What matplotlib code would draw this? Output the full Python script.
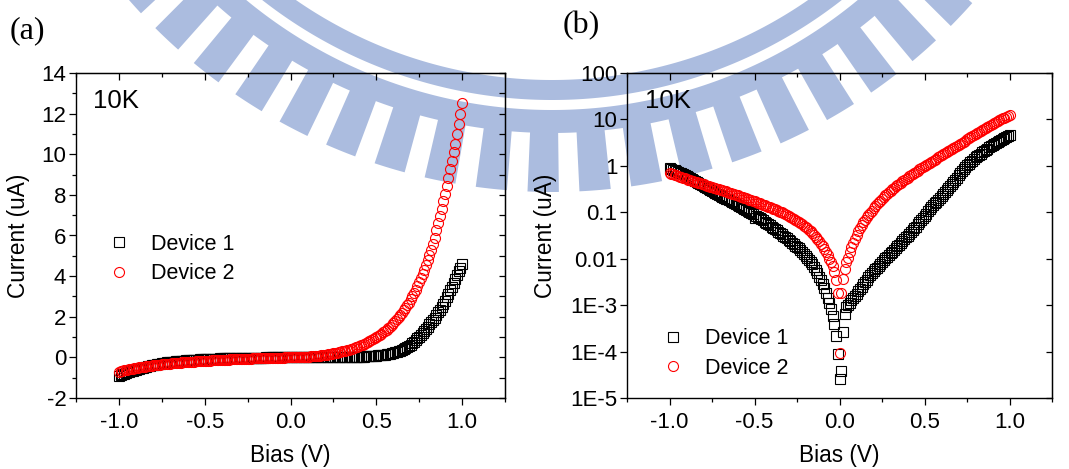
import numpy as np
import matplotlib
matplotlib.use("Agg")
from matplotlib import pyplot as plt
from matplotlib.patches import Polygon
from matplotlib.transforms import Affine2D
from matplotlib.ticker import (MultipleLocator, FixedLocator, FixedFormatter,
                               LogLocator, NullFormatter, NullLocator,
                               FormatStrFormatter)

plt.rcParams['font.family'] = ['Liberation Sans', 'DejaVu Sans']
plt.rcParams['axes.unicode_minus'] = False

W, H = 1069, 469

# I-V sweep at 10K, -1 V to 1 V in 10 mV steps
bias = np.linspace(-1.0, 1.0, 201)

# current in uA
device1 = [
    -0.90, -0.865, -0.832, -0.80, -0.77, -0.741, -0.713, -0.686, -0.66, -0.635,
    -0.611, -0.587, -0.558, -0.531, -0.505, -0.48, -0.456, -0.434, -0.412, -0.392,
    -0.372, -0.354, -0.337, -0.321, -0.306, -0.292, -0.278, -0.265, -0.252, -0.24,
    -0.229, -0.218, -0.208, -0.198, -0.189, -0.18, -0.171, -0.163, -0.156, -0.148,
    -0.141, -0.135, -0.129, -0.123, -0.117, -0.112, -0.107, -0.102, -0.0977, -0.0933,
    -0.074, -0.0841, -0.0794, -0.075, -0.0708, -0.0668, -0.0631, -0.0596, -0.0562, -0.0527,
    -0.0494, -0.0463, -0.0435, -0.0407, -0.0382, -0.0358, -0.0336, -0.0315, -0.0293, -0.0273,
    -0.0254, -0.0237, -0.022, -0.0205, -0.0191, -0.0178, -0.0166, -0.0154, -0.014, -0.0127,
    -0.0115, -0.0105, -0.0095, -0.0086, -0.00755, -0.0066, -0.00578, -0.00486, -0.00409, -0.00344,
    -0.0029, -0.00234, -0.00186, -0.00145, -0.0011, -0.00083, -0.00059, -0.00039, -0.00022, -0.00009,
    0.000026, 0.000039, 0.00026, 0.00066, 0.00089, 0.001, 0.00112, 0.00126, 0.00141, 0.00158,
    0.00178, 0.002, 0.00224, 0.00251, 0.00282, 0.00316, 0.00355, 0.00398, 0.00447, 0.0049,
    0.00537, 0.00589, 0.00646, 0.00708, 0.00776, 0.00851, 0.00933, 0.0102, 0.0111, 0.0121,
    0.0131, 0.0143, 0.0156, 0.0169, 0.0185, 0.0201, 0.022, 0.024, 0.0263, 0.0288,
    0.0315, 0.0344, 0.0377, 0.0412, 0.0451, 0.0493, 0.0548, 0.061, 0.0678, 0.0753,
    0.0838, 0.0931, 0.104, 0.115, 0.128, 0.141, 0.155, 0.17, 0.187, 0.205,
    0.225, 0.248, 0.273, 0.30, 0.332, 0.367, 0.407, 0.452, 0.502, 0.558,
    0.62, 0.69, 0.765, 0.845, 0.93, 1.02, 1.11, 1.2, 1.3, 1.41,
    1.52, 1.62, 1.73, 1.84, 1.96, 2.08, 2.21, 2.35, 2.49, 2.64,
    2.8, 2.96, 3.13, 3.3, 3.48, 3.67, 3.87, 4.07, 4.25, 4.42,
    4.58,
]
device2 = [
    -0.70, -0.68, -0.66, -0.64, -0.62, -0.60, -0.58, -0.565, -0.55, -0.535,
    -0.52, -0.505, -0.49, -0.477, -0.465, -0.453, -0.441, -0.43, -0.419, -0.408,
    -0.397, -0.387, -0.377, -0.367, -0.358, -0.349, -0.34, -0.331, -0.322, -0.313,
    -0.305, -0.297, -0.289, -0.281, -0.274, -0.266, -0.259, -0.252, -0.245, -0.238,
    -0.231, -0.225, -0.218, -0.212, -0.206, -0.2, -0.194, -0.188, -0.183, -0.178,
    -0.172, -0.167, -0.162, -0.157, -0.152, -0.147, -0.142, -0.137, -0.133, -0.128,
    -0.124, -0.119, -0.115, -0.111, -0.107, -0.103, -0.099, -0.095, -0.091, -0.087,
    -0.083, -0.079, -0.075, -0.072, -0.068, -0.065, -0.062, -0.058, -0.055, -0.051,
    -0.048, -0.045, -0.042, -0.039, -0.036, -0.033, -0.030, -0.027, -0.024, -0.021,
    -0.0185, -0.016, -0.0138, -0.0118, -0.010, -0.0085, -0.0070, -0.0052, -0.0034, -0.0018,
    0.000091, 0.00185, 0.0036, 0.0059, 0.0085, 0.0106, 0.0137, 0.0175, 0.022, 0.027,
    0.033, 0.039, 0.046, 0.053, 0.061, 0.069, 0.078, 0.088, 0.098, 0.109,
    0.121, 0.134, 0.148, 0.163, 0.178, 0.195, 0.212, 0.23, 0.25, 0.27,
    0.29, 0.312, 0.335, 0.36, 0.385, 0.41, 0.435, 0.465, 0.495, 0.525,
    0.56, 0.595, 0.63, 0.67, 0.71, 0.75, 0.79, 0.84, 0.89, 0.94,
    0.99, 1.05, 1.11, 1.17, 1.23, 1.3, 1.37, 1.44, 1.52, 1.6,
    1.69, 1.78, 1.88, 1.98, 2.09, 2.2, 2.32, 2.44, 2.57, 2.7,
    2.85, 3.0, 3.16, 3.33, 3.5, 3.7, 3.9, 4.1, 4.3, 4.55,
    4.8, 5.05, 5.3, 5.6, 5.9, 6.25, 6.6, 6.95, 7.3, 7.7,
    8.05, 8.45, 8.85, 9.25, 9.65, 10.1, 10.5, 11.0, 11.5, 12.0,
    12.5,
]

series_labels = ['Device 1', 'Device 2']
log_ticks = [1e-5, 1e-4, 1e-3, 1e-2, 1e-1, 1, 10, 100]
log_tick_labels = ['1E-5', '1E-4', '1E-3', '0.01', '0.1', '1', '10', '100']

TICK_FS = 16
LABEL_FS = 16.3
LEGEND_FS = 15.5


def add_watermark(fig):
    # pale gear-rim emblem behind both panels, laid out in pixel units (y down)
    px = Affine2D().scale(1 / W, -1 / H).translate(0, 1) + fig.transFigure
    cx, cy = 552, -370

    def sector(r0, r1, a0, a1, n):
        t = np.radians(np.linspace(a0, a1, n))
        outer = np.c_[cx + r1 * np.sin(t), cy + r1 * np.cos(t)]
        inner = np.c_[cx + r0 * np.sin(t[::-1]), cy + r0 * np.cos(t[::-1])]
        return np.vstack([outer, inner])

    shapes = [sector(450, 470, -60, 60, 200), sector(480, 503, -60, 60, 200)]
    for k in range(-10, 11):
        a = -6.2 + 5.3 * k
        shapes.append(sector(500, 562, a - 1.6, a + 1.6, 8))
    for verts in shapes:
        fig.add_artist(Polygon(verts, closed=True, transform=px,
                               facecolor='#abbcdf', edgecolor='none', zorder=-1))


def style_axes(ax, log=False):
    ax.set_facecolor('none')
    for s in ax.spines.values():
        s.set_linewidth(1.0)
    ax.set_xlim(-1.25, 1.25)
    ax.xaxis.set_major_locator(MultipleLocator(0.5))
    ax.xaxis.set_minor_locator(MultipleLocator(0.25))
    ax.xaxis.set_major_formatter(FormatStrFormatter('%.1f'))
    ax.tick_params(which='both', direction='out', labelsize=TICK_FS, width=0.9,
                   top=False, right=False, colors='black')
    ax.tick_params(which='major', length=5, pad=2)
    ax.tick_params(which='minor', length=3)
    ax.tick_params(axis='x', which='major', pad=5)

    top = ax.secondary_xaxis('top')
    top.xaxis.set_major_locator(MultipleLocator(0.5))
    top.xaxis.set_minor_locator(MultipleLocator(0.25))
    top.tick_params(which='both', direction='in', labeltop=False, width=0.9)
    top.tick_params(which='major', length=5)
    top.tick_params(which='minor', length=3)

    right = ax.secondary_yaxis('right')
    right.tick_params(which='both', direction='in', labelright=False, width=0.9, length=4)
    if log:
        right.yaxis.set_major_locator(FixedLocator(log_ticks))
        right.yaxis.set_minor_locator(NullLocator())
    else:
        right.yaxis.set_major_locator(MultipleLocator(2))
        right.yaxis.set_minor_locator(MultipleLocator(1))

    ax.set_xlabel('Bias (V)', fontsize=LABEL_FS)
    ax.set_ylabel('Current (uA)', fontsize=LABEL_FS)


fig = plt.figure(figsize=(W / 100, H / 100), dpi=100)
add_watermark(fig)

marker_kw = [
    dict(marker='s', ms=6.7, mfc='none', mec='black', mew=0.8),
    dict(marker='o', ms=7.2, mfc='none', mec='red', mew=0.8),
]
legend_kw = dict(loc='upper left', frameon=False, fontsize=LEGEND_FS,
                 handlelength=1.0, handletextpad=1.0, borderpad=0,
                 borderaxespad=0, labelspacing=0.4, numpoints=1)

# (a) linear scale
ax1 = fig.add_axes([76 / W, 71 / H, 429 / W, 325 / H])
for y, lab, kw in zip([device1, device2], series_labels, marker_kw):
    ax1.plot(bias, y, ls='none', label=lab, **kw)
ax1.set_ylim(-2, 14)
ax1.yaxis.set_major_locator(MultipleLocator(2))
ax1.yaxis.set_minor_locator(MultipleLocator(1))
style_axes(ax1)
ax1.xaxis.set_label_coords(0.5, -0.14)
ax1.yaxis.set_label_coords(-0.108, 0.5)
ax1.text(0.040, 0.892, '10K', transform=ax1.transAxes, fontsize=18.5,
         ha='left', va='baseline')
ax1.legend(bbox_to_anchor=(0.0746, 0.505), **legend_kw)

# (b) absolute current on log scale
ax2 = fig.add_axes([627 / W, 71 / H, 425 / W, 325 / H])
for y, lab, kw in zip([device1, device2], series_labels, marker_kw):
    ax2.plot(bias, np.abs(y), ls='none', label=lab, **kw)
ax2.set_yscale('log')
ax2.set_ylim(1e-5, 100)
ax2.yaxis.set_major_locator(FixedLocator(log_ticks))
ax2.yaxis.set_major_formatter(FixedFormatter(log_tick_labels))
ax2.yaxis.set_minor_locator(LogLocator(base=10, subs=np.arange(2, 10)))
ax2.yaxis.set_minor_formatter(NullFormatter())
style_axes(ax2, log=True)
ax2.xaxis.set_label_coords(0.5, -0.14)
ax2.yaxis.set_label_coords(-0.165, 0.5)
ax2.text(0.042, 0.892, '10K', transform=ax2.transAxes, fontsize=18.5,
         ha='left', va='baseline')
ax2.legend(bbox_to_anchor=(0.082, 0.215), **legend_kw)

fig.text(10 / W, 1 - 38 / H, '(a)', family='Liberation Serif', fontsize=23,
         ha='left', va='baseline')
fig.text(563 / W, 1 - 33 / H, '(b)', family='Liberation Serif', fontsize=23,
         ha='left', va='baseline')

fig.savefig('out.png', dpi=100)
